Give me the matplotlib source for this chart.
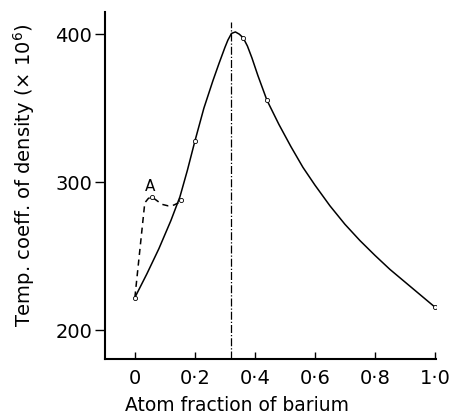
import matplotlib
matplotlib.use("Agg")
import matplotlib.pyplot as plt

plt.rcParams['font.family'] = ['DejaVu Sans']

# Solid curve
solid_x = [0.0, 0.04, 0.08, 0.12, 0.15, 0.175, 0.2, 0.23, 0.26, 0.28, 0.3, 0.31,
           0.322, 0.335, 0.348, 0.361, 0.375, 0.39, 0.41, 0.44, 0.48, 0.52, 0.56,
           0.6, 0.65, 0.7, 0.75, 0.8, 0.85, 0.9, 0.95, 1.0]
solid_y = [222, 238, 255, 274, 290, 308, 327.7, 350, 368.5, 380, 391, 396,
           400.5, 401.5, 400, 397.5, 392, 384, 372, 355.4, 339, 324, 310,
           298, 284, 271.5, 260.5, 250.5, 241, 232.5, 224, 215.5]

# Dashed branch
dash_x = [0.0, 0.033, 0.045, 0.056, 0.07, 0.09, 0.11, 0.13, 0.145, 0.161]
dash_y = [222, 286, 289, 290, 288, 285, 284, 284.5, 286, 288]

# Experimental points (open circles)
pt_x = [0.0, 0.2, 0.361, 0.44, 1.0, 0.056, 0.155]
pt_y = [222, 327.7, 397.5, 355.4, 215.5, 290, 288]

# Vertical dash-dot line
vline_x = 0.322
vline_top = 408

xticks = [0, 0.2, 0.4, 0.6, 0.8, 1.0]
xticklabels = ['0', '0·2', '0·4', '0·6', '0·8', '1·0']
yticks = [200, 300, 400]
yticklabels = ['200', '300', '400']

fig = plt.figure(figsize=(4.54, 4.18), dpi=100)
ax = fig.add_axes([0.231, 0.141, 0.729, 0.830])

ax.plot(solid_x, solid_y, color='black', lw=1.1)
ax.plot(dash_x, dash_y, color='black', lw=1.1, ls=(0, (4, 3)))
ax.plot(pt_x, pt_y, 'o', ms=3, mfc='white', mec='black', mew=0.6)
ax.plot([vline_x, vline_x], [180.4, vline_top], color='black', lw=0.9, ls='-.')
ax.text(0.05, 292, 'A', fontsize=11, ha='center', va='bottom')

ax.set_xlim(-0.1, 1.003)
ax.set_ylim(180.4, 414.9)
ax.set_xticks(xticks)
ax.set_xticklabels(xticklabels, fontsize=14)
ax.set_yticks(yticks)
ax.set_yticklabels(yticklabels, fontsize=14)
ax.tick_params(axis='x', direction='in', length=5, width=1, pad=7)
ax.tick_params(axis='y', direction='out', length=7, width=1, pad=2)
for s in ['top', 'right']:
    ax.spines[s].set_visible(False)
for s in ['left', 'bottom']:
    ax.spines[s].set_linewidth(1.5)

ax.set_xlabel('Atom fraction of barium', fontsize=13.5, va='center')
ax.xaxis.set_label_coords(0.40, -0.133)
ax.set_ylabel('Temp. coeff. of density (× 10$^6$)', fontsize=14, va='center')
ax.yaxis.set_label_coords(-0.245, 0.53)

fig.savefig('out.png', dpi=100)
